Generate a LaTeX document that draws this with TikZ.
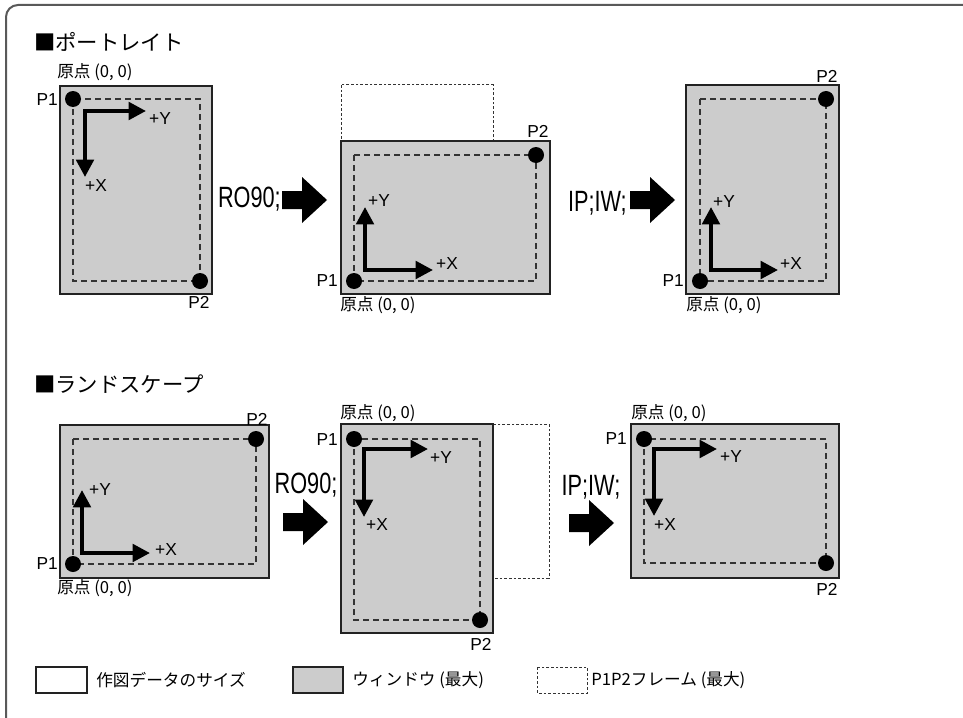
\documentclass[tikz,border=0pt]{standalone}
\usepackage{fontspec}
\setmainfont{Liberation Sans}
\newfontfamily\jp{Noto Sans CJK JP}
\usetikzlibrary{arrows.meta}
\definecolor{win}{HTML}{CCCCCC}
\definecolor{edge}{HTML}{222222}
\tikzset{
 winbox/.style={fill=win, draw=edge, line width=1.5pt},
 frame/.style={draw=black!80, dash pattern=on 4.5pt off 3pt, line width=0.9pt},
 paper/.style={draw=black!80, dash pattern=on 2pt off 1.5pt, line width=0.75pt},
 dot/.style={circle, fill=black, inner sep=0pt, minimum size=12pt},
 axis/.style={line width=3pt, line cap=rect, -{Triangle[length=13pt,width=13pt]}},
 lbl/.style={font=\fontsize{13}{15}\selectfont, inner sep=0pt},
 jlbl/.style={font=\jp\fontsize{12.5}{14}\selectfont, inner sep=0pt, anchor=west},
 ttl/.style={font=\jp\fontsize{16}{19}\selectfont, inner sep=0pt, anchor=west},
 cmd/.style={inner sep=0pt},
 leg/.style={font=\jp\fontsize{12.5}{14}\selectfont, inner sep=0pt, anchor=west},
 legbox/.style={draw=edge, line width=0.9pt},
 bigarr/.pic={\fill[black] (0,-9) -- (20,-9) -- (20,-23) -- (45,0) -- (20,23) -- (20,9) -- (0,9) -- cycle;}
}
\newcommand{\cmdtext}[1]{\scalebox{0.74}[1]{\fontsize{22}{24}\selectfont #1}}
\begin{document}
\begin{tikzpicture}[x=0.75pt,y=-0.75pt]
\useasboundingbox (0,0) rectangle (963,717);
\fill[white] (0,0) rectangle (963,717);
\draw[draw=black!65, line width=1.5pt, rounded corners=9pt] (6,5) rectangle (975,745);

% ---------- Portrait ----------
\node[ttl] (t1) at (34,42) {■ポートレイト};

% box 1
\draw[winbox] (60,86) rectangle (212,294);
\draw[frame] (73,99) rectangle (200,281);
\node[dot] (a1) at (73,99) {};
\node[dot] (a2) at (200,281) {};
\node[lbl, anchor=east] (a1l) at (58,100) {P1};
\node[lbl] (a2l) at (199,302) {P2};
\node[jlbl] (a0l) at (57,72) {原点 (0, 0)};
\coordinate (ac) at (85,111);
\coordinate (ay) at (146,111);
\coordinate (ax) at (85,177);
\draw[axis] (ac) -- (ay);
\draw[axis] (ac) -- (ax);
\node[lbl] (ayl) at (160,119) {+Y};
\node[lbl] (axl) at (96,186) {+X};

% arrow 1
\node[cmd, anchor=east] (c1) at (281,199) {\cmdtext{RO90;}};
\pic at (282,200) {bigarr};

% box 2
\draw[paper] (341,85) rectangle (493,294);
\draw[winbox] (341,141) rectangle (550,294);
\draw[frame] (354,155) rectangle (536,281);
\node[dot] (b1) at (354,281) {};
\node[dot] (b2) at (536,155) {};
\node[lbl, anchor=east] (b1l) at (338,281) {P1};
\node[lbl] (b2l) at (538,131) {P2};
\node[jlbl] (b0l) at (340,305) {原点 (0, 0)};
\coordinate (bc) at (365,270);
\coordinate (by) at (365,207);
\coordinate (bx) at (433,270);
\draw[axis] (bc) -- (by);
\draw[axis] (bc) -- (bx);
\node[lbl] (byl) at (379,201) {+Y};
\node[lbl] (bxl) at (447,264) {+X};

% arrow 2
\node[cmd, anchor=east] (c2) at (627,203) {\cmdtext{IP;IW;}};
\pic at (630,200) {bigarr};

% box 3
\draw[winbox] (686,85) rectangle (839,294);
\draw[frame] (700,99) rectangle (826,281);
\node[dot] (d1) at (700,281) {};
\node[dot] (d2) at (826,99) {};
\node[lbl, anchor=east] (d1l) at (684,281) {P1};
\node[lbl] (d2l) at (827,76) {P2};
\node[jlbl] (d0l) at (686,305) {原点 (0, 0)};
\coordinate (dc) at (711,270);
\coordinate (dy) at (711,207);
\coordinate (dx) at (778,270);
\draw[axis] (dc) -- (dy);
\draw[axis] (dc) -- (dx);
\node[lbl] (dyl) at (724,202) {+Y};
\node[lbl] (dxl) at (791,264) {+X};

% ---------- Landscape ----------
\node[ttl] (t2) at (34,384) {■ランドスケープ};

% box L1
\draw[winbox] (60,425) rectangle (269,578);
\draw[frame] (73,439) rectangle (256,564);
\node[dot] (e1) at (73,564) {};
\node[dot] (e2) at (256,439) {};
\node[lbl, anchor=east] (e1l) at (58,564) {P1};
\node[lbl] (e2l) at (257,419) {P2};
\node[jlbl] (e0l) at (57,588) {原点 (0, 0)};
\coordinate (ec) at (82,553);
\coordinate (ey) at (82,490);
\coordinate (ex) at (150,553);
\draw[axis] (ec) -- (ey);
\draw[axis] (ec) -- (ex);
\node[lbl] (eyl) at (100,490) {+Y};
\node[lbl] (exl) at (166,550) {+X};

% arrow 3
\node[cmd] (c3) at (306,485) {\cmdtext{RO90;}};
\pic at (283,522) {bigarr};

% box L2
\draw[paper] (341,424) rectangle (549,578);
\draw[winbox] (341,424) rectangle (493,633);
\draw[frame] (354,439) rectangle (480,620);
\node[dot] (f1) at (354,439) {};
\node[dot] (f2) at (480,620) {};
\node[lbl, anchor=east] (f1l) at (338,440) {P1};
\node[lbl] (f2l) at (481,644) {P2};
\node[jlbl] (f0l) at (340,413) {原点 (0, 0)};
\coordinate (fc) at (364,449);
\coordinate (fy) at (428,449);
\coordinate (fx) at (364,517);
\draw[axis] (fc) -- (fy);
\draw[axis] (fc) -- (fx);
\node[lbl] (fyl) at (441,458) {+Y};
\node[lbl] (fxl) at (377,525) {+X};

% arrow 4
\node[cmd] (c4) at (591,487) {\cmdtext{IP;IW;}};
\pic at (569,523) {bigarr};

% box L3
\draw[winbox] (631,424) rectangle (839,578);
\draw[frame] (644,439) rectangle (826,563);
\node[dot] (g1) at (644,439) {};
\node[dot] (g2) at (826,563) {};
\node[lbl, anchor=east] (g1l) at (627,439) {P1};
\node[lbl] (g2l) at (827,589) {P2};
\node[jlbl] (g0l) at (631,413) {原点 (0, 0)};
\coordinate (gc) at (654,449);
\coordinate (gy) at (717,449);
\coordinate (gx) at (654,516);
\draw[axis] (gc) -- (gy);
\draw[axis] (gc) -- (gx);
\node[lbl] (gyl) at (731,457) {+Y};
\node[lbl] (gxl) at (665,525) {+X};

% ---------- Legend ----------
\draw[legbox, fill=white] (36,667) rectangle (87,693);
\node[leg] (l1) at (96,680) {作図データのサイズ};
\draw[legbox, fill=win] (293,667) rectangle (343,693);
\node[leg] (l2) at (352,680) {ウィンドウ (最大)};
\draw[paper] (537,667) rectangle (587,693);
\node[leg] (l3) at (591,680) {P1P2フレーム (最大)};
\end{tikzpicture}
\end{document}
